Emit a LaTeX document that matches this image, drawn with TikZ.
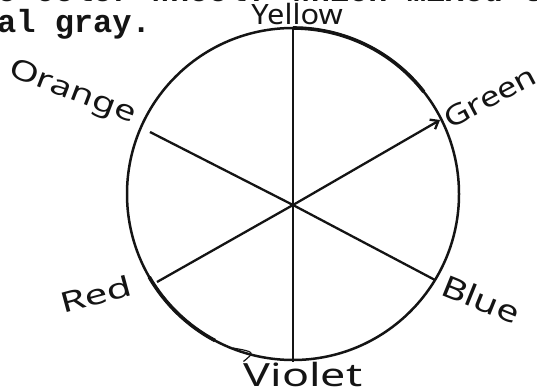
\documentclass[tikz,border=0pt]{standalone}
\usepackage{fontspec}
\setmainfont{Noto Sans}
\newfontfamily\typewriter{Liberation Mono}
\usepackage{tikz}
\usetikzlibrary{arrows.meta,calc}

\definecolor{inkblack}{RGB}{20,20,20}

\tikzset{
  handlbl/.style={inner sep=0pt, text=inkblack, font=\fontsize{28}{30}\selectfont},
  typed/.style={inner sep=0pt, anchor=base west, text=inkblack, font=\typewriter\bfseries\fontsize{32}{34}\selectfont},
  spoke/.style={draw=inkblack, line width=2.3pt},
  rim/.style={draw=inkblack, line width=2.5pt}
}

\begin{document}
\begin{tikzpicture}[x=1pt,y=-1pt]
  \useasboundingbox (0,0) rectangle (537,387);
  \clip (0,0) rectangle (537,387);

  % typed text above the wheel
  \node[typed] (line1) at (-3,1.5) {e color wheel. which mixed t};
  \node[typed] (line2) at (-3,33) {al gray.};

  % the wheel
  \coordinate (mid) at (293,194);
  \coordinate (hub) at (293,205);
  \draw[rim] (mid) circle[radius=166];
  \draw[inkblack, line width=3.6pt] (mid) ++(-90:166) arc[start angle=-90, end angle=-38, radius=166];
  \draw[inkblack, line width=3.6pt] (mid) ++(150:166) arc[start angle=150, end angle=118, radius=166];

  \coordinate (pY) at (293,27);
  \coordinate (pV) at (293,362);
  \coordinate (pO) at (150,132);
  \coordinate (pG) at (440,120);
  \coordinate (pB) at (435,280);
  \coordinate (pR) at (157,282);

  \draw[spoke] (pY) -- (pV);
  \draw[spoke] (pO) -- (hub) -- (pB);
  \draw[spoke] (pR) -- (hub);
  \draw[spoke, -{Straight Barb[length=7pt,width=11pt]}] (hub) -- (pG);

  % colour names
  \node[handlbl, xscale=1.1] (yellow) at (297,14) {Yellow};
  \node[handlbl, rotate=-21, xscale=1.35] (orange) at (72,93) {Orange};
  \node[handlbl, rotate=28, xscale=1.25] (green) at (490,97) {Green};
  \node[handlbl, rotate=-22, xscale=1.3, font=\fontsize{30}{32}\selectfont] (blue) at (481,299) {Blue};
  \node[handlbl, rotate=15, xscale=1.45] (red) at (96,294) {Red};
  \node[handlbl, xscale=1.4, font=\fontsize{32}{34}\selectfont] (violet) at (303,374) {Violet};

  \coordinate (vtick) at (233,348);
  \draw[inkblack, line width=1.2pt] (vtick) .. controls (255,352) .. (violet.north west);
\end{tikzpicture}
\end{document}
